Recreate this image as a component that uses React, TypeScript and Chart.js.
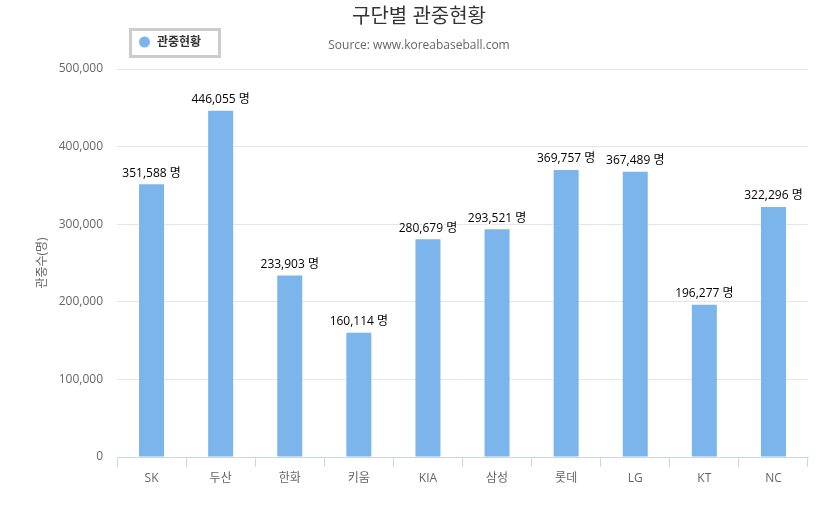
import React, { useEffect, useRef } from "react";
import { Chart, registerables } from "chart.js";

Chart.register(...registerables);

const categories = ["SK", "두산", "한화", "키움", "KIA", "삼성", "롯데", "LG", "KT", "NC"];
const attendance = [351588, 446055, 233903, 160114, 280679, 293521, 369757, 367489, 196277, 322296];
const yTicks = [0, 100000, 200000, 300000, 400000, 500000];
const seriesName = "관중현황";
const titleText = "구단별 관중현황";
const subtitleText = "Source: www.koreabaseball.com";
const yAxisTitle = "관중수(명)";
const unit = "명";

const FONT = '"Open Sans", "Noto Sans CJK KR", sans-serif';
const BAR_COLOR = "#7cb5ec";

const fmt = (v: number) => Number(v).toLocaleString("en-US");

const overlayPlugin = {
  id: "overlay",
  afterDatasetsDraw(chart: any) {
    const ctx = chart.ctx;
    const meta = chart.getDatasetMeta(0);
    ctx.save();
    ctx.font = `12px ${FONT}`;
    ctx.fillStyle = "#000000";
    ctx.textAlign = "center";
    ctx.textBaseline = "middle";
    meta.data.forEach((el: any, i: number) => {
      const txt = `${fmt(attendance[i])} ${unit}`;
      ctx.lineWidth = 2;
      ctx.strokeStyle = "#ffffff";
      ctx.strokeText(txt, el.x, el.y - 11);
      ctx.fillText(txt, el.x, el.y - 11);
    });
    ctx.restore();
  },
  afterDraw(chart: any) {
    const ctx = chart.ctx;
    ctx.save();
    ctx.textAlign = "center";
    ctx.textBaseline = "middle";
    // title
    ctx.fillStyle = "#333333";
    ctx.font = `20px ${FONT}`;
    ctx.fillText(titleText, 419, 17);
    // subtitle
    ctx.fillStyle = "#666666";
    ctx.font = `12px ${FONT}`;
    ctx.fillText(subtitleText, 419, 46);
    // legend box
    ctx.strokeStyle = "#cccccc";
    ctx.lineWidth = 3;
    ctx.strokeRect(130.5, 29.5, 89, 27);
    ctx.fillStyle = BAR_COLOR;
    ctx.beginPath();
    ctx.arc(144.5, 42, 5.5, 0, Math.PI * 2);
    ctx.fill();
    ctx.fillStyle = "#333333";
    ctx.font = `bold 12px ${FONT}`;
    ctx.textAlign = "left";
    ctx.fillText(seriesName, 157, 42.5);
    // y axis title
    ctx.translate(43, 263);
    ctx.rotate(-Math.PI / 2);
    ctx.textAlign = "center";
    ctx.fillStyle = "#666666";
    ctx.font = `12px ${FONT}`;
    ctx.fillText(yAxisTitle, 0, 0);
    ctx.restore();
  },
};

export default function App() {
  const canvasRef = useRef<HTMLCanvasElement | null>(null);

  useEffect(() => {
    const canvas = canvasRef.current;
    if (!canvas) return;
    const chart = new Chart(canvas, {
      type: "bar",
      data: {
        labels: categories,
        datasets: [
          {
            label: seriesName,
            data: attendance,
            backgroundColor: BAR_COLOR,
            borderWidth: 0,
            categoryPercentage: 1,
            barPercentage: 0.362,
          },
        ],
      },
      options: {
        responsive: false,
        animation: false,
        layout: { padding: { top: 69, right: 22, left: 0, bottom: 0 } },
        plugins: {
          legend: { display: false },
          title: { display: false },
          tooltip: { enabled: false },
        },
        scales: {
          x: {
            grid: {
              drawOnChartArea: false,
              color: "#ccd6eb",
              tickLength: 10,
              offset: true,
            },
            border: { color: "#ccd6eb" },
            ticks: {
              color: "#666666",
              font: { family: FONT, size: 12 },
              padding: 4,
              maxRotation: 0,
            },
            afterFit: (s: any) => {
              s.height = 58;
            },
          },
          y: {
            min: 0,
            max: 500000,
            afterBuildTicks: (s: any) => {
              s.ticks = yTicks.map((v) => ({ value: v }));
            },
            grid: { color: "#e6e6e6", drawTicks: false },
            border: { display: false },
            ticks: {
              color: "#666666",
              font: { family: FONT, size: 12 },
              padding: 14,
              callback: (v: any) => fmt(v),
            },
            afterFit: (s: any) => {
              s.width = 117;
            },
          },
        },
      },
      plugins: [overlayPlugin],
    });
    return () => chart.destroy();
  }, []);

  return (
    <canvas
      ref={canvasRef}
      width={830}
      height={515}
      style={{ position: "fixed", left: 0, top: 0, display: "block", width: 830, height: 515 }}
    />
  );
}
